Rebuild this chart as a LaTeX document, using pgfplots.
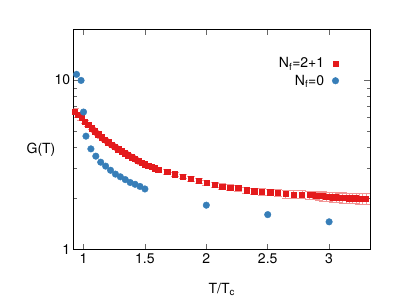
\documentclass[border=0pt]{standalone}
\usepackage{fontspec}
\setmainfont{TeX Gyre Heros}
\usepackage{pgfplots}
\pgfplotsset{compat=1.18}
\usepackage{pgfplotstable}
\definecolor{cred}{RGB}{228,26,28}
\definecolor{cblue}{RGB}{55,126,184}
\definecolor{cpink}{RGB}{242,150,150}

\pgfplotstableread{
x y e
0.929 6.54 0.25
0.956 6.26 0.22
0.983 5.98 0.18
1.011 5.68 0.11
1.038 5.43 0.11
1.065 5.20 0.10
1.092 4.99 0.10
1.119 4.80 0.10
1.146 4.60 0.09
1.173 4.45 0.09
1.201 4.30 0.09
1.228 4.16 0.08
1.255 4.04 0.08
1.282 3.91 0.08
1.309 3.81 0.08
1.336 3.71 0.07
1.363 3.61 0.07
1.391 3.51 0.07
1.418 3.44 0.07
1.445 3.36 0.07
1.472 3.25 0.07
1.499 3.19 0.06
1.526 3.14 0.06
1.553 3.08 0.06
1.581 3.02 0.06
1.608 2.97 0.06
1.681 2.88 0.09
1.744 2.79 0.08
1.809 2.70 0.08
1.874 2.62 0.08
1.939 2.54 0.08
2.000 2.47 0.08
2.067 2.41 0.09
2.130 2.36 0.09
2.194 2.33 0.09
2.260 2.31 0.09
2.327 2.24 0.10
2.390 2.21 0.10
2.454 2.19 0.10
2.520 2.18 0.10
2.580 2.16 0.10
2.647 2.13 0.11
2.710 2.12 0.11
2.780 2.12 0.11
2.840 2.10 0.12
2.867 2.10 0.12
2.894 2.09 0.12
2.921 2.07 0.12
2.948 2.07 0.13
2.975 2.06 0.13
3.002 2.06 0.13
3.029 2.04 0.13
3.056 2.04 0.13
3.083 2.03 0.13
3.110 2.03 0.14
3.137 2.02 0.14
3.164 2.01 0.14
3.191 2.01 0.14
3.218 2.01 0.14
3.245 2.00 0.14
3.272 2.00 0.14
3.299 2.00 0.14
}\redtab

\pgfplotstableread{
x y
0.943 10.8
0.980 9.95
1.000 6.48
1.020 4.67
1.060 3.93
1.100 3.56
1.140 3.28
1.180 3.11
1.220 2.94
1.260 2.79
1.300 2.69
1.340 2.59
1.380 2.49
1.420 2.43
1.460 2.36
1.500 2.28
2.000 1.83
2.500 1.61
3.000 1.46
}\bluetab

\begin{document}
\begin{tikzpicture}[font=\fontsize{14}{16.8}\selectfont]
\begin{axis}[name=ax, scale only axis, width=296.3pt, height=220.7pt,
  xmin=0.92, xmax=3.333, ymode=log, ymin=1, ymax=20,
  xtick={1,1.5,2,2.5,3}, xticklabels={1,1.5,2,2.5,3},
  ytick={1,10}, yticklabels={1,10},
  tick align=inside, tick pos=both,
  major tick length=6pt, minor tick length=3pt,
  tick style={black!60, line width=0.6pt},
  axis line style={black, line width=0.9pt},
  every axis x label/.style={at={(rel axis cs:0.5,0)}, anchor=center, yshift=-40pt},
  every axis y label/.style={at={(rel axis cs:0,0.452)}, anchor=center, xshift=-32.7pt},
  xlabel={T/T\textsubscript{c}}, ylabel={G(T)},
  legend cell align=right, legend plot pos=right,
  legend image code/.code={\draw[#1] plot coordinates {(0pt,0pt)};},
  legend style={draw=none, fill=none, at={(rel axis cs:0.9055,0.889)}, anchor=north east,
    row sep=1.5pt, column sep=6pt},
]
\addplot[only marks, mark=square*, mark size=2.6pt, color=cred,
  error bars/.cd, y dir=both, y explicit,
  error bar style={color=cpink, line width=0.6pt},
  error mark options={rotate=90, mark size=4pt, color=cpink, line width=0.6pt}]
  table[x=x, y=y, y error=e] {\redtab};
\addlegendentry{N\textsubscript{f}=2+1}
\addplot[only marks, mark=*, mark size=3.3pt, color=cblue, mark options={draw=none, fill=cblue}]
  table[x=x, y=y] {\bluetab};
\addlegendentry{N\textsubscript{f}=0}
\end{axis}
\path[use as bounding box] ([xshift=-73.7pt,yshift=-52.3pt]ax.south west) rectangle ([xshift=29pt,yshift=29pt]ax.north east);
\end{tikzpicture}
\end{document}
